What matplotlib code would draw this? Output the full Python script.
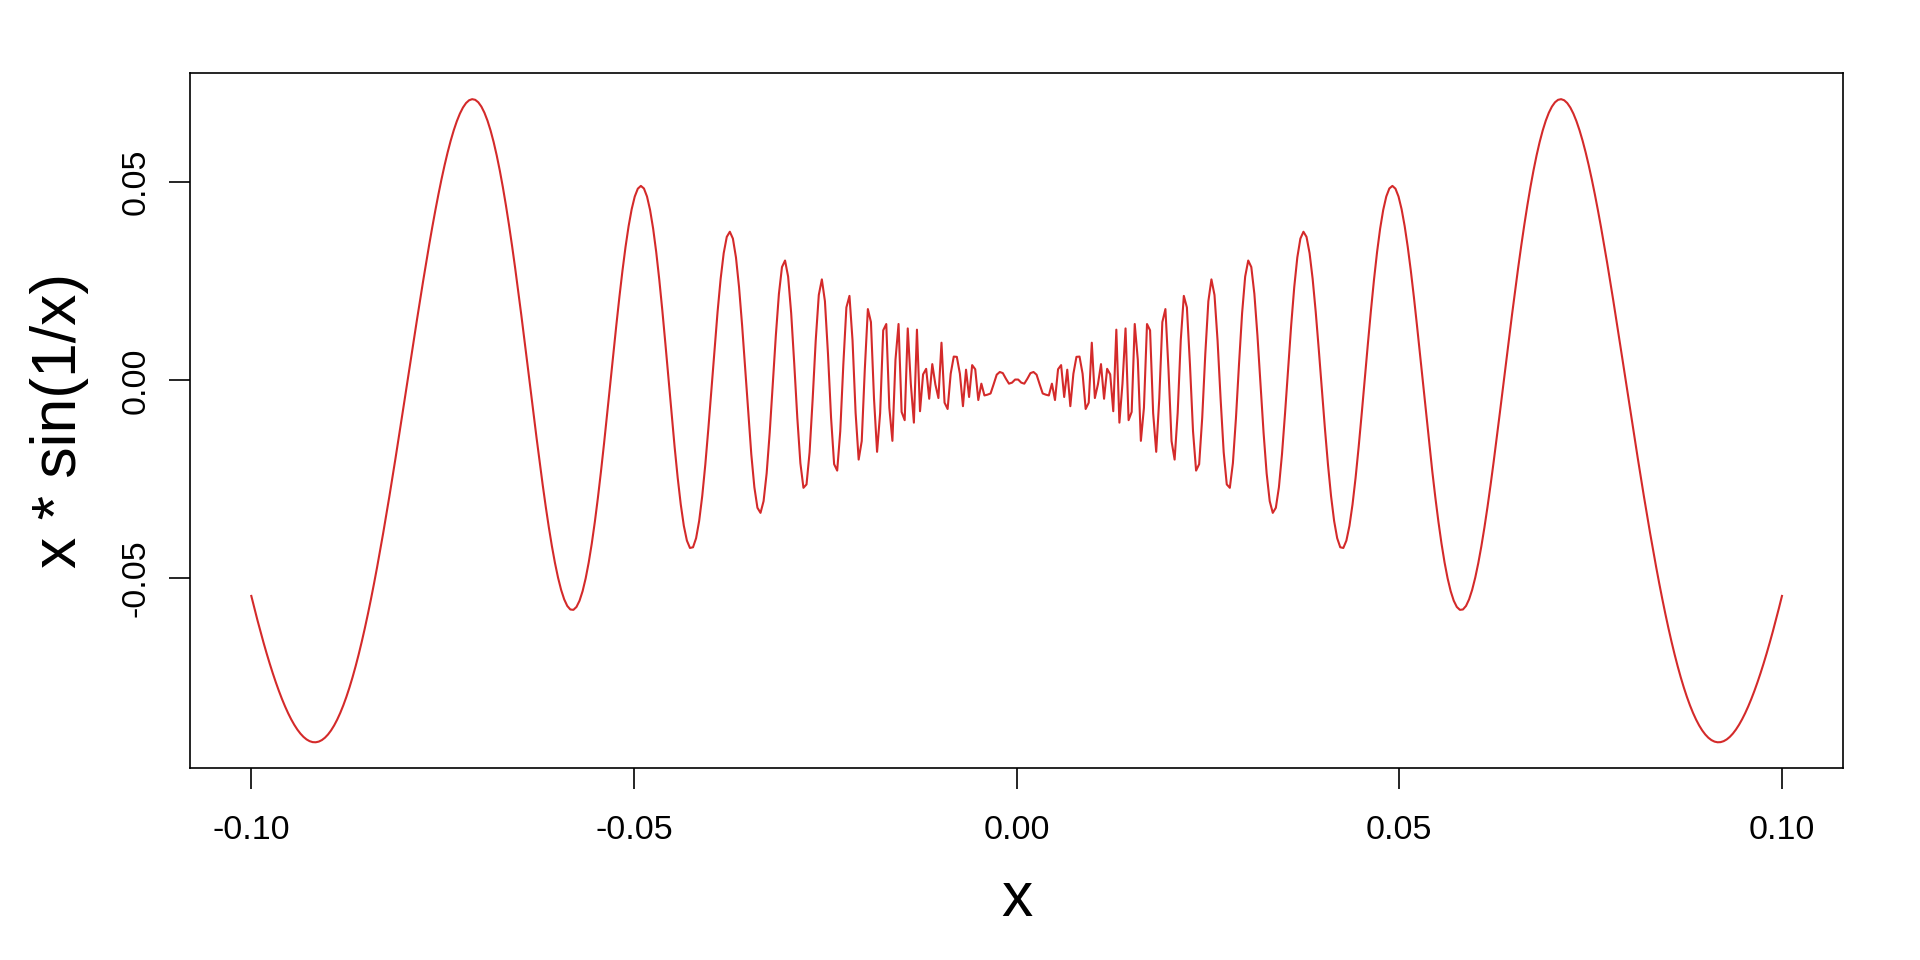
import numpy as np
import matplotlib
matplotlib.use("Agg")
import matplotlib.pyplot as plt

# sample grid of the curve x * sin(1/x), as drawn in the reference
x_min, x_max = -0.1, 0.1
n_points = 500
x = np.linspace(x_min, x_max, n_points)
y = x * np.sin(1 / x)

x_ticks = [-0.10, -0.05, 0.00, 0.05, 0.10]
x_tick_labels = ["-0.10", "-0.05", "0.00", "0.05", "0.10"]
y_ticks = [-0.05, 0.00, 0.05]
y_tick_labels = ["-0.05", "0.00", "0.05"]

plt.rcParams['font.family'] = ['Liberation Sans', 'DejaVu Sans']

fig = plt.figure(figsize=(19.2, 9.6), dpi=100)
ax = fig.add_axes([0.099, 0.2, 0.861, 0.7235])

ax.plot(x, y, color='#D42A2A', linewidth=1.5)
ax.margins(x=0.04, y=0.04)

ax.set_xticks(x_ticks)
ax.set_xticklabels(x_tick_labels)
ax.set_yticks(y_ticks)
ax.set_yticklabels(y_tick_labels, rotation=90, va='center')

ax.tick_params(axis='both', length=15, width=1.2, labelsize=24.5)
ax.tick_params(axis='x', pad=19)
ax.tick_params(axis='y', pad=13)
for s in ax.spines.values():
    s.set_linewidth(1.2)

ax.set_xlabel('x', fontsize=45)
ax.xaxis.set_label_coords(0.5, -0.19)
ax.xaxis.label.set_va('center')
ax.set_ylabel('x * sin(1/x)', fontsize=45)
ax.yaxis.set_label_coords(-0.079, 0.5)
ax.yaxis.label.set_va('center')

fig.savefig('out.png', dpi=100)
